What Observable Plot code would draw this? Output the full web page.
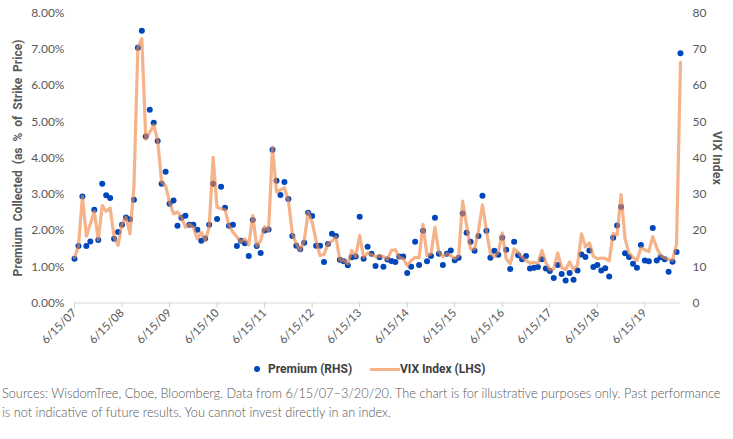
<!DOCTYPE html>
<html>
<head>
<meta charset="utf-8">
<script src="https://cdn.jsdelivr.net/npm/d3@7"></script>
<script src="https://cdn.jsdelivr.net/npm/@observablehq/plot@0.6"></script>
<style>
  html, body { margin: 0; padding: 0; background: #fff; }
  #wrap { position: relative; width: 733px; height: 439px; overflow: hidden; }
  #chart { position: absolute; left: 0; top: 0; }
  #legend { position: absolute; top: 361px; left: 0; width: 733px; height: 16px;
    font-family: Roboto, sans-serif; font-weight: bold;
    font-size: 12px; color: #404040; }
  #legend .item { position: absolute; top: 0; line-height: 16px; white-space: nowrap; }
  #legend .dot { position: absolute; width: 6px; height: 6px; border-radius: 50%; background: #0047bb; top: 5px; }
  #legend .sw { position: absolute; height: 3px; background: #f5b38a; top: 7px; }
  #caption { position: absolute; left: 2px; top: 384px; width: 731px;
    font-family: Lato, "Open Sans", sans-serif; font-weight: 300; font-size: 12.75px; color: #555;
    line-height: 19px; white-space: nowrap; }
</style>
</head>
<body>
<div id="wrap">
  <div id="chart"></div>
  <div id="legend">
    <span class="dot" style="left:254px"></span>
    <span class="item" style="left:268px">Premium (RHS)</span>
    <span class="sw" style="left:370px;width:30px"></span>
    <span class="item" style="left:400px">VIX Index (LHS)</span>
  </div>
  <div id="caption">Sources: WisdomTree, Cboe, Bloomberg. Data from 6/15/07–3/20/20. The chart is for illustrative purposes only. Past performance<br>is not indicative of future results. You cannot invest directly in an index.</div>
</div>
<script>
// Monthly observations, 6/15/07 ... 3/20/20 (154 points)
const premium = [
  1.22,1.57,2.94,1.57,1.70,2.57,1.74,3.29,2.97,2.90,1.77,1.96,
  2.16,2.36,2.31,2.85,7.04,7.51,4.59,5.33,4.97,4.47,3.29,3.62,
  2.74,2.83,2.13,2.35,2.41,2.16,2.16,2.02,1.72,1.78,2.16,3.29,
  2.32,3.21,2.63,2.13,2.16,1.57,1.72,1.65,1.30,2.29,1.57,1.38,
  2.00,2.03,4.23,3.37,2.98,3.34,2.87,1.85,1.58,1.48,1.66,2.49,
  2.40,1.58,1.58,1.13,1.63,1.91,1.85,1.19,1.15,1.04,1.26,1.28,
  2.38,1.22,1.55,1.36,1.02,1.26,1.00,1.20,1.16,1.13,1.28,1.28,
  0.83,1.00,1.69,1.05,1.99,1.15,1.30,2.35,1.36,1.05,1.36,1.45,
  1.18,1.25,2.47,1.94,1.69,1.44,1.85,2.96,1.99,1.25,1.44,1.33,
  1.80,1.47,0.94,1.69,1.32,1.21,1.30,0.95,0.97,0.99,1.21,0.95,
  0.88,0.69,1.05,0.80,0.62,0.83,0.64,0.90,1.34,1.27,1.45,0.99,
  1.05,0.90,0.96,0.73,1.80,2.14,2.65,1.37,1.27,1.08,0.97,1.60,
  1.17,1.15,2.07,1.17,1.26,1.21,0.86,1.14,1.41,6.89
];
const vix = [
  12.5,15.7,29.4,18.4,21.8,25.3,17.4,26.9,25.3,26.2,18.2,15.9,
  21.8,23.7,19.1,32.0,70.4,72.9,45.2,47.1,49.1,44.8,33.3,32.4,
  27.8,24.6,25.1,23.7,20.9,21.7,20.9,17.7,19.5,17.2,20.9,40.2,
  26.4,26.0,25.8,21.4,19.5,18.2,16.8,17.7,16.0,24.1,15.7,17.2,
  21.1,20.0,43.0,30.6,31.2,31.8,28.3,19.1,16.3,14.5,17.2,25.1,
  22.3,17.2,13.1,13.4,16.3,17.1,18.2,11.9,11.7,10.8,14.5,12.8,
  18.6,12.6,13.8,13.4,12.8,13.0,12.8,12.0,14.5,14.7,12.6,12.2,
  10.3,11.7,12.6,12.5,21.7,13.1,13.6,20.9,14.0,12.8,13.6,13.1,
  12.2,13.1,28.1,21.4,14.9,14.9,20.0,27.1,20.0,13.6,12.8,14.0,
  19.3,12.2,10.8,14.9,14.0,12.6,11.7,11.0,11.2,11.0,14.5,11.2,
  9.2,9.4,13.8,9.8,9.2,11.3,9.2,10.5,19.1,15.5,16.6,12.9,
  12.2,12.4,12.3,11.6,19.2,18.8,29.9,17.7,13.8,12.6,11.7,15.2,
  14.7,14.2,18.3,15.2,13.1,12.4,12.0,11.8,16.3,66.4
];
const tickLabels = ["6/15/07","6/15/08","6/15/09","6/15/10","6/15/11","6/15/12","6/15/13",
                    "6/15/14","6/15/15","6/15/16","6/15/17","6/15/18","6/15/19"];
const leftTicks = [0,1,2,3,4,5,6,7,8];          // percent
const rightTicks = [0,10,20,30,40,50,60,70,80];  // VIX level
const leftTitle = "Premium\u00a0 Collected\u00a0 (as\u00a0 %\u00a0 of\u00a0 Strike\u00a0 Price)";
const rightTitle = "VIX Index";

const rows = premium.map((p, i) => ({i, p, v: vix[i]}));
const tickIdx = tickLabels.map((_, k) => k * 12);

const chart = Plot.plot({
  width: 733,
  height: 345,
  marginLeft: 74,
  marginRight: 53,
  marginTop: 12.5,
  marginBottom: 42.5,
  x: {domain: [0, premium.length - 1]},
  y: {domain: [0, 8]},
  style: {fontFamily: "Lato, 'Open Sans', sans-serif", fontSize: "12px", color: "#595959", background: "transparent", overflow: "visible"},
  marks: [
    Plot.ruleY([0], {stroke: "#d9d9d9", strokeWidth: 1.2}),
    Plot.axisY(leftTicks, {anchor: "left", tickSize: 0, tickPadding: 10, tickFormat: d => d.toFixed(2) + "%", label: null, fill: "#595959", fontSize: 12}),
    Plot.axisY(rightTicks.map(d => d / 10), {anchor: "right", tickSize: 0, tickPadding: 12, tickFormat: d => String(Math.round(d * 10)), label: null, fill: "#595959", fontSize: 12}),
    Plot.axisX(tickIdx, {anchor: "bottom", tickRotate: -45, tickSize: 5, tickPadding: 3, stroke: "#d0d0d0", fill: "#595959", tickFormat: d => tickLabels[d / 12], label: null, fontSize: 11.5}),
    Plot.dot(rows, {x: "i", y: "p", r: 3, fill: "#0047bb", stroke: "none"}),
    Plot.line(rows, {x: "i", y: d => d.v / 10, stroke: "#f08a4b", strokeOpacity: 0.65, strokeWidth: 3.2, curve: "linear"}),
    Plot.text([leftTitle], {frameAnchor: "left", textAnchor: "middle", dx: -56, rotate: -90, fontWeight: "bold", fontSize: 12,
      fill: "#595959", fontFamily: "Roboto, sans-serif"}),
    Plot.text([rightTitle], {frameAnchor: "right", textAnchor: "middle", dx: 36, rotate: 90, fontWeight: "bold", fontSize: 12.5,
      fill: "#595959", fontFamily: "Roboto, sans-serif"})
  ]
});
document.getElementById("chart").appendChild(chart);
</script>
</body>
</html>
